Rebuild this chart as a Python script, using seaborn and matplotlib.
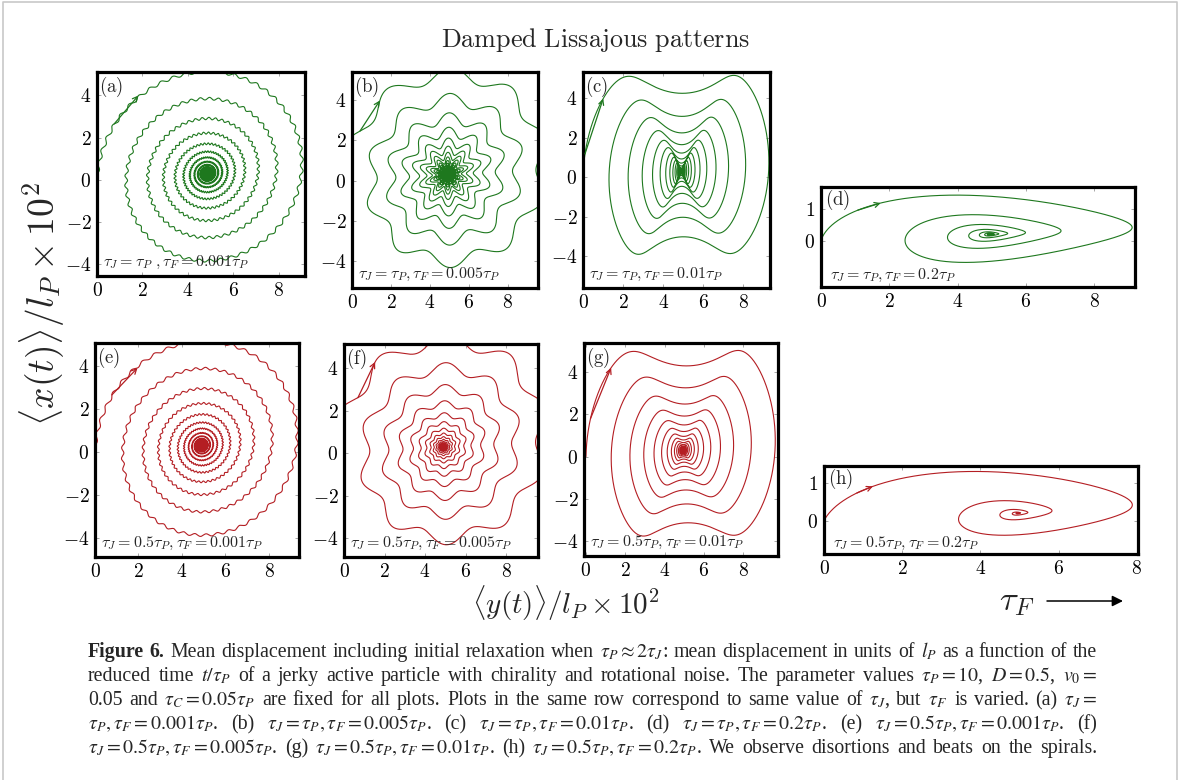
import re
import numpy as np
import pandas as pd
import matplotlib
matplotlib.use("Agg")
import matplotlib.pyplot as plt
import seaborn as sns

sns.set_theme(style="white")
plt.rcParams["font.family"] = ["DejaVu Serif"]
plt.rcParams["mathtext.fontset"] = "cm"

# ---------------------------------------------------------------- panels
PANELS = ["a", "b", "c", "d", "e", "f", "g", "h"]
TAU_J_LABEL = [r"\tau_P"] * 4 + [r"0.5\tau_P"] * 4
TAU_F_LABEL = ["0.001", "0.005", "0.01", "0.2"] * 2
ROW_COLOR = ["#1e781e", "#b41e23"]

# spiral parameters (horizontal <y>, vertical <x>, units of 1e-2 l_P)
CENTER_H = [4.85, 4.90, 4.90, 4.95, 4.90, 4.90, 4.95, 4.95]
CENTER_V = [0.30, 0.30, 0.30, 0.20, 0.30, 0.30, 0.30, 0.20]
AMP_V = [5.20, 5.00, 5.80, 1.35, 5.20, 5.00, 5.70, 1.40]
STRETCH_H = [0.00, 0.20, 0.10, 0.45, 0.10, 0.20, 0.25, 0.15]
SKEW_H = [0.0, 0.0, 0.0, 0.20, 0.0, 0.0, 0.0, 0.20]
SQUEEZE_H = [0.0, 0.0, 0.15, 0.0, 0.0, 0.0, 0.15, 0.0]
DECAY_PER_TURN = [0.735, 0.735, 0.735, 0.50, 0.74, 0.74, 0.74, 0.30]
TURNS = [18, 18, 18, 10, 18, 18, 18, 7]
# distortions: vertical Lissajous harmonic and radial ripple
LISS_HARM = [0, 0, 3, 2, 0, 0, 3, 2]
LISS_AMP = [0.0, 0.0, 1.5, 0.30, 0.0, 0.0, 1.4, 0.25]
RIPPLE_HARM = [52, 10, 0, 0, 48, 10, 0, 0]
RIPPLE_PHASE = [0.0, -np.pi / 2, 0.0, 0.0, 0.0, -np.pi / 2, 0.0, 0.0]
RIPPLE_AMP = [0.07, 0.36, 0.0, 0.0, 0.065, 0.38, 0.0, 0.0]
MODE_DECAY = [0.90, 0.90, 0.82, 0.50, 0.88, 0.74, 0.74, 0.30]
ARROW_PHASE_DEG = [50, 47, 26, 42, 50, 50, 30, 32]

# axes placement (pixels: left, right, top, bottom) and limits
AX_BOX = [(97, 305, 72, 276), (352, 538, 72, 288), (583, 770, 72, 288),
          (821, 1135, 187, 287), (95, 299, 343, 557), (344, 538, 344, 557),
          (584, 778, 343, 556), (824, 1138, 466, 554)]
XLIM = [(0, 9.15), (0, 9.55), (0, 9.33), (0, 9.2),
        (0, 9.38), (0, 9.58), (-0.1, 9.78), (0, 8.03)]
YLIM = [(-4.55, 5.1), (-5.35, 5.4), (-5.6, 5.32), (-1.44, 1.67),
        (-4.86, 5.05), (-4.87, 5.13), (-4.7, 5.37), (-0.89, 1.46)]
XTICKS = [0, 2, 4, 6, 8]
YTICKS_WIDE = [-4, -2, 0, 2, 4]
YTICKS_FLAT = [0, 1]

CAPTION_LINES = [
    r"Figure 6. Mean displacement including initial relaxation when $\tau_P \approx 2\tau_J$: mean displacement in units of $l_P$ as a function of the",
    r"reduced time $t/\tau_P$ of a jerky active particle with chirality and rotational noise. The parameter values $\tau_P = 10$, $D = 0.5$, $v_0 =$",
    r"0.05 and $\tau_C = 0.05\tau_P$ are fixed for all plots. Plots in the same row correspond to same value of $\tau_J$, but $\tau_F$ is varied. (a) $\tau_J =$",
    r"$\tau_P, \tau_F = 0.001\tau_P$. (b) $\tau_J = \tau_P, \tau_F = 0.005\tau_P$. (c) $\tau_J = \tau_P, \tau_F = 0.01\tau_P$. (d) $\tau_J = \tau_P, \tau_F = 0.2\tau_P$. (e) $\tau_J = 0.5\tau_P, \tau_F = 0.001\tau_P$. (f)",
    r"$\tau_J = 0.5\tau_P, \tau_F = 0.005\tau_P$. (g) $\tau_J = 0.5\tau_P, \tau_F = 0.01\tau_P$. (h) $\tau_J = 0.5\tau_P, \tau_F = 0.2\tau_P$. We observe disortions and beats on the spirals.",
]

W, H = 1181, 780


def trajectory(k, n_pts=40000):
    phi = np.linspace(0, 2 * np.pi * TURNS[k], n_pts)
    turns = phi / (2 * np.pi)
    env = DECAY_PER_TURN[k] ** turns
    env2 = MODE_DECAY[k] ** turns
    hc, vc = CENTER_H[k], CENTER_V[k]
    squeeze = 1 - SQUEEZE_H[k] * np.sin(2 * phi) ** 2
    h = (hc * (1 - env * np.cos(phi) * squeeze)
         + STRETCH_H[k] * env * (1 - np.cos(phi))
         + SKEW_H[k] * env * np.sin(phi) ** 2)
    v = vc * (1 - env * np.cos(phi)) + AMP_V[k] * env * np.sin(phi)
    if LISS_HARM[k]:
        v = v + LISS_AMP[k] * env2 * np.sin(LISS_HARM[k] * phi)
    if RIPPLE_HARM[k]:
        rip = RIPPLE_AMP[k] * env2 * (np.sin(RIPPLE_HARM[k] * phi + RIPPLE_PHASE[k])
                                      - np.sin(RIPPLE_PHASE[k]))
        h = h - rip * np.cos(phi)
        v = v + rip * np.sin(phi)
    return pd.DataFrame({"phi": phi, "y": h, "x": v})


fig = plt.figure(figsize=(W / 100, H / 100), dpi=100)

for k, name in enumerate(PANELS):
    L, R, T, B = AX_BOX[k]
    ax = fig.add_axes([L / W, 1 - B / H, (R - L) / W, (B - T) / H])
    color = ROW_COLOR[k // 4]
    df = trajectory(k)
    sns.lineplot(data=df, x="y", y="x", sort=False, estimator=None,
                 color=color, lw=0.8, ax=ax)
    # direction arrow on the first loop
    i = int(np.searchsorted(df["phi"].values, np.deg2rad(ARROW_PHASE_DEG[k])))
    j = max(i - 120, 0)
    ax.annotate("", xy=(df["y"].iloc[i], df["x"].iloc[i]),
                xytext=(df["y"].iloc[j], df["x"].iloc[j]),
                arrowprops=dict(arrowstyle="->", color=color, lw=0.9,
                                mutation_scale=9, shrinkA=0, shrinkB=0))
    ax.set_xlim(*XLIM[k])
    ax.set_ylim(*YLIM[k])
    ax.set_xlabel("")
    ax.set_ylabel("")
    ax.set_xticks(XTICKS)
    ax.set_xticklabels([f"${t}$" for t in XTICKS])
    yt = YTICKS_FLAT if k % 4 == 3 else YTICKS_WIDE
    ax.set_yticks(yt)
    ax.set_yticklabels([f"${t}$" for t in yt])
    ax.tick_params(direction="in", length=3, width=0.6, color="#999999",
                   bottom=True, left=True, top=True, right=True,
                   labelsize=14, labelcolor="black", pad=4)
    for sp in ax.spines.values():
        sp.set_linewidth(2.3)
        sp.set_color("black")
        sp.set_visible(True)
    ax.text(0.012, 0.988, rf"$\mathrm{{({name})}}$", transform=ax.transAxes,
            ha="left", va="top", fontsize=13.5)
    sep = r"\ ," if k == 0 else ","
    ax.text(0.03, 0.025,
            rf"$\tau_J = {TAU_J_LABEL[k]}{sep}\tau_F = {TAU_F_LABEL[k]}\tau_P$",
            transform=ax.transAxes, ha="left", va="bottom", fontsize=11.5)

# overlay in pixel coordinates for frame, labels and caption
bg = fig.add_axes([0, 0, 1, 1], zorder=5)
bg.set_xlim(0, W)
bg.set_ylim(H, 0)
bg.axis("off")
bg.patch.set_alpha(0)
bg.plot([3, 3, 1177, 1177], [H + 5, 2, 2, H + 5], color="#c8c8c8", lw=1.2)

bg.text(596, 40, r"$\mathrm{Damped\ Lissajous\ patterns}$", ha="center",
        va="center", fontsize=18.8)
bg.text(42, 304, r"$\langle x(t)\rangle/l_P\times10^2$", rotation=90,
        ha="center", va="center", fontsize=27)
bg.text(566, 603, r"$\langle y(t)\rangle/l_P\times10^2$", ha="center",
        va="center", fontsize=21)
bg.text(1017, 601, r"$\tau_F$", ha="center", va="center", fontsize=25)
bg.annotate("", xy=(1123, 601), xytext=(1047, 601),
            arrowprops=dict(arrowstyle="-|>", color="black", lw=1.1,
                            mutation_scale=16, shrinkA=0, shrinkB=0))

# justified caption
renderer = fig.canvas.get_renderer()
X0, X1 = 88, 1097
BASE0, LEAD = 657, 24


def make_tokens(line, size, bold_first):
    toks = re.findall(r"(?:\$[^$]*\$|[^\s$])+", line)
    arts = []
    for n, tok in enumerate(toks):
        arts.append(bg.text(0, 0, tok, fontsize=size, family="Liberation Serif",
                            fontweight="bold" if n < bold_first else "normal",
                            math_fontfamily="stix", ha="left", va="baseline"))
    return arts


size0 = 15.0
natural = []
for n, line in enumerate(CAPTION_LINES):
    arts = make_tokens(line, size0, 2 if n == 0 else 0)
    ws = [a.get_window_extent(renderer).width for a in arts]
    natural.append(sum(ws) + 0.25 * size0 * 100 / 72 * (len(ws) - 1))
    for a in arts:
        a.remove()
size = size0 * min(1.0, (X1 - X0) / max(natural) * 0.99)

for n, line in enumerate(CAPTION_LINES):
    arts = make_tokens(line, size, 2 if n == 0 else 0)
    ws = [a.get_window_extent(renderer).width for a in arts]
    gap = (X1 - X0 - sum(ws)) / (len(ws) - 1)
    x = X0
    for a, w in zip(arts, ws):
        a.set_position((x, BASE0 + n * LEAD))
        x += w + gap

fig.savefig("out.png", dpi=100)
